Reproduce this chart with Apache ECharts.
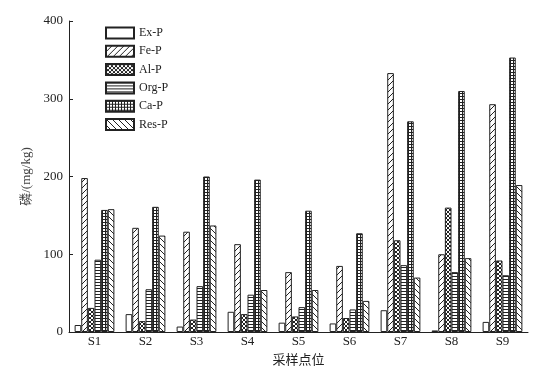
<!DOCTYPE html>
<html><head><meta charset="utf-8">
<script src="https://cdn.jsdelivr.net/npm/echarts@6/dist/echarts.min.js"></script>
<style>html,body{margin:0;padding:0;background:#fff}#c{width:534px;height:372px}</style>
</head><body><div id="c"></div>
<script>
const categories = ['S1','S2','S3','S4','S5','S6','S7','S8','S9'];
const seriesNames = ['Ex-P','Fe-P','Al-P','Org-P','Ca-P','Res-P'];
const exP  = [9, 23, 7, 26, 12, 11, 28, 2, 13];
const feP  = [198, 134, 129, 113, 77, 85, 333, 100, 293];
const alP  = [31, 14, 16, 23, 20, 18, 118, 160, 92];
const orgP = [93, 55, 59, 48, 32, 29, 86, 77, 73];
const caP  = [157, 161, 200, 196, 156, 127, 271, 310, 353];
const resP = [158, 124, 137, 54, 54, 40, 70, 95, 189];
const yTicks = [0, 100, 200, 300, 400];

function mk(w, h, draw) {
  const c = document.createElement('canvas');
  c.width = w; c.height = h;
  const g = c.getContext('2d');
  g.fillStyle = '#fff'; g.fillRect(0, 0, w, h);
  g.strokeStyle = '#222'; g.fillStyle = '#222'; g.lineWidth = 1;
  draw(g);
  return {image: c, repeat: 'repeat'};
}
const patterns = [
  '#ffffff',
  mk(6, 6, g => { g.beginPath(); g.moveTo(-1, 7); g.lineTo(7, -1); g.moveTo(-1, 1); g.lineTo(1, -1); g.moveTo(5, 7); g.lineTo(7, 5); g.stroke(); }),
  mk(4, 4, g => { g.beginPath(); g.moveTo(-1, 5); g.lineTo(5, -1); g.moveTo(-1, -1); g.lineTo(5, 5); g.stroke(); }),
  mk(1, 3, g => { g.fillRect(0, 0, 1, 1); }),
  mk(3, 3, g => { g.fillRect(0, 0, 3, 1); g.fillRect(0, 0, 1, 3); }),
  mk(6, 6, g => { g.beginPath(); g.moveTo(-1, -1); g.lineTo(7, 7); g.moveTo(5, -1); g.lineTo(7, 1); g.moveTo(-1, 5); g.lineTo(1, 7); g.stroke(); })
];
const dataArr = [exP, feP, alP, orgP, caP, resP];
const font = "'Liberation Serif','Noto Sans CJK SC',serif";

const chart = echarts.init(document.getElementById('c'), null, {renderer: 'canvas'});
chart.setOption({
  animation: false,
  grid: {left: 69, right: 6, top: 21, bottom: 40, outerBoundsMode: 'none', containLabel: false},
  legend: {
    orient: 'vertical', left: 100, top: 21.5,
    icon: 'rect',
    itemWidth: 28, itemHeight: 11, itemGap: 5.3,
    textStyle: {fontFamily: font, fontSize: 12, color: '#222'},
    data: seriesNames
  },
  xAxis: {
    type: 'category', data: categories,
    name: '采样点位', nameLocation: 'middle', nameGap: 22,
    nameTextStyle: {fontFamily: font, fontSize: 13, color: '#222'},
    axisLine: {lineStyle: {color: '#222', width: 1}},
    axisTick: {inside: true, length: 5, lineStyle: {color: '#222'}},
    axisLabel: {fontFamily: font, fontSize: 13, color: '#222', margin: 3}
  },
  yAxis: {
    type: 'value', min: yTicks[0], max: yTicks[yTicks.length - 1], interval: 100,
    name: '磷/(mg/kg)', nameLocation: 'middle', nameGap: 33,
    nameTextStyle: {fontFamily: font, fontSize: 13, color: '#444'},
    axisLine: {show: true, lineStyle: {color: '#222', width: 1}},
    axisTick: {show: true, inside: true, length: 4, lineStyle: {color: '#222'}},
    axisLabel: {fontFamily: font, fontSize: 13, color: '#222', margin: 6},
    splitLine: {show: false}
  },
  series: seriesNames.map((n, i) => ({
    name: n, type: 'bar', data: dataArr[i],
    barGap: '0%', barCategoryGap: '22%',
    itemStyle: {color: patterns[i], borderColor: '#222', borderWidth: 1}
  }))
});
</script></body></html>
